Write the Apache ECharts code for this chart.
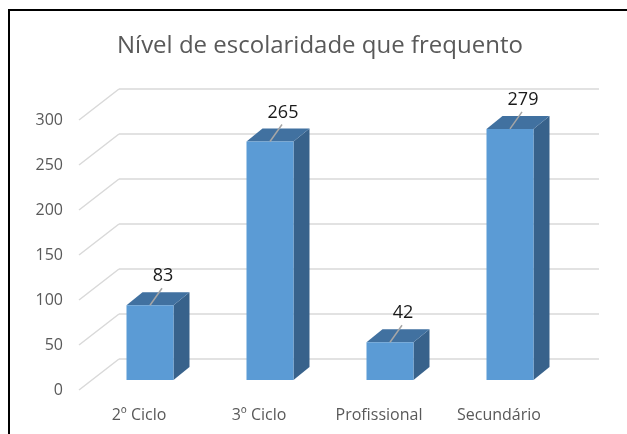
<!DOCTYPE html>
<html>
<head>
<meta charset="utf-8">
<script src="https://cdn.jsdelivr.net/npm/echarts@6/dist/echarts.min.js"></script>
<style>
html, body { margin: 0; padding: 0; background: #fff; }
#chart { width: 627px; height: 434px; }
</style>
</head>
<body>
<div id="chart"></div>
<script>
const categories = ['2º Ciclo', '3º Ciclo', 'Profissional', 'Secundário'];
const values = [83, 265, 42, 279];
const yTicks = [0, 50, 100, 150, 200, 250, 300];

const FONT = 'Open Sans';
// fake 3d: offset from the back wall to the front edge of the floor
const DEPTH = [-40, 31];
// bars stand a bit in front of the back wall
const BAR_SHIFT = [-29, 21];
const BAR_DEPTH = [16, -13];
const BAR_W = 47;

const chart = echarts.init(document.getElementById('chart'));

// diagonal floor/side lines at every tick
const renderDiagonal = (params, api) => {
  const p = api.coord([0, api.value(1)]);
  const x = params.coordSys.x;
  return {
    type: 'line',
    shape: { x1: x, y1: p[1], x2: x + DEPTH[0], y2: p[1] + DEPTH[1] },
    style: { stroke: '#d9d9d9', lineWidth: 1.5 }
  };
};

const renderBar = (params, api) => {
  const base = api.coord([api.value(0), 0]);
  const top = api.coord([api.value(0), api.value(1)]);
  const cx = base[0] + BAR_SHIFT[0];
  const x0 = cx - BAR_W / 2;
  const x1 = cx + BAR_W / 2;
  const yb = base[1] + BAR_SHIFT[1];
  const yt = top[1] + BAR_SHIFT[1];
  const dx = BAR_DEPTH[0];
  const dy = BAR_DEPTH[1];
  return {
    type: 'group',
    children: [
      {
        type: 'polygon',
        shape: { points: [[x1, yb], [x1 + dx, yb + dy], [x1 + dx, yt + dy], [x1, yt]] },
        style: { fill: '#38628b' }
      },
      {
        type: 'polygon',
        shape: { points: [[x0, yt], [x1, yt], [x1 + dx, yt + dy], [x0 + dx, yt + dy]] },
        style: { fill: '#4171a0' }
      },
      {
        type: 'rect',
        shape: { x: x0, y: yt, width: BAR_W, height: yb - yt },
        style: { fill: '#5b9bd5' }
      },
      {
        type: 'line',
        shape: { x1: cx, y1: yt, x2: cx + 12, y2: yt - 17 },
        style: { stroke: '#a6a6a6', lineWidth: 1.5 }
      },
      {
        type: 'text',
        style: {
          text: String(api.value(1)),
          x: cx + 13,
          y: yt - 20,
          align: 'center',
          verticalAlign: 'bottom',
          fill: '#1a1a1a',
          fontSize: 18,
          fontFamily: FONT
        }
      }
    ]
  };
};

chart.setOption({
  animation: false,
  title: {
    text: 'Nível de escolaridade que frequento',
    left: 112,
    top: 29,
    textStyle: {
      fontFamily: FONT,
      fontSize: 24,
      fontWeight: 'normal',
      color: '#595959'
    }
  },
  graphic: [
    {
      type: 'rect',
      shape: { x: 9, y: 10, width: 700, height: 500 },
      style: { stroke: '#000', fill: null, lineWidth: 2 }
    }
  ],
  grid: [
    { left: 119, right: 28, top: 89, bottom: 75 },
    { left: 79, right: 68, top: 120, bottom: 44 }
  ],
  xAxis: [
    { type: 'category', gridIndex: 0, data: categories, show: false },
    {
      type: 'category',
      gridIndex: 1,
      data: categories,
      axisLine: { show: false },
      axisTick: { show: false },
      axisLabel: {
        margin: 17,
        fontFamily: FONT,
        fontSize: 16,
        color: '#595959'
      }
    }
  ],
  yAxis: [
    {
      type: 'value',
      gridIndex: 0,
      min: 0,
      max: 300,
      interval: 50,
      axisLabel: { show: false },
      axisLine: { show: false },
      axisTick: { show: false },
      splitLine: { lineStyle: { color: '#d9d9d9', width: 1.5 } }
    },
    {
      type: 'value',
      gridIndex: 1,
      min: 0,
      max: 300,
      interval: 50,
      axisLine: { show: false },
      axisTick: { show: false },
      splitLine: { show: false },
      axisLabel: {
        margin: 16,
        fontFamily: FONT,
        fontSize: 16,
        color: '#595959'
      }
    }
  ],
  series: [
    {
      type: 'custom',
      xAxisIndex: 0,
      yAxisIndex: 0,
      data: yTicks.map(t => [0, t]),
      renderItem: renderDiagonal,
      silent: true
    },
    {
      type: 'custom',
      xAxisIndex: 0,
      yAxisIndex: 0,
      data: values.map((v, i) => [i, v]),
      renderItem: renderBar
    }
  ]
});
</script>
</body>
</html>
